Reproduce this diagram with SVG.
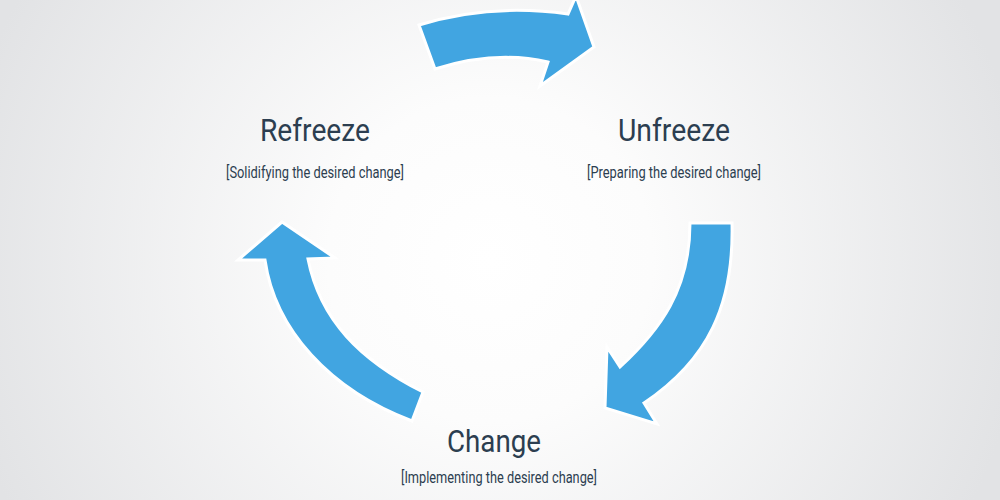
<svg xmlns="http://www.w3.org/2000/svg" width="1000" height="500" viewBox="0 0 1000 500">
<style>
.arrow{fill:#41a5e1;stroke:#ffffff;stroke-width:3;stroke-linejoin:miter}
.title{font-family:Roboto,"Liberation Sans",sans-serif;font-size:31px;fill:#2c3e50;text-anchor:middle}
.sub{font-family:Roboto,"Liberation Sans",sans-serif;font-size:16px;fill:#2c3e50;text-anchor:middle}
</style>
<defs>
<radialGradient id="bg" gradientUnits="userSpaceOnUse" cx="490" cy="260" r="540">
<stop offset="0" stop-color="#ffffff"/>
<stop offset="0.3" stop-color="#fcfcfc"/>
<stop offset="1" stop-color="#e2e3e5"/>
</radialGradient>
</defs>
<rect width="1000" height="500" fill="url(#bg)"/>
<g id="connectors">
<path id="arrow-top" class="arrow" d="M419,25 Q490,3 568,14 L576,-4 L594,47 L540,86 L548,62 Q495,50 435,69 Z"/>
<path id="arrow-right" class="arrow" d="M690,223 L732,223 C734,305 708,360 644,403 L657,424 L605,408 L607,347 L620,367 C660,330 690,290 690,223 Z"/>
<path id="arrow-left" class="arrow" d="M412,421 L423,392 C360,360 320,320 308,259 L335,258 L282,222 L238,260 L265,260 C275,330 330,390 412,421 Z"/>
</g>
<g id="refreeze">
<text class="title" x="315" y="141" textLength="110" lengthAdjust="spacingAndGlyphs">Refreeze</text>
<text class="sub" x="315" y="178" textLength="178" lengthAdjust="spacingAndGlyphs">[Solidifying the desired change]</text>
</g>
<g id="unfreeze">
<text class="title" x="674" y="141" textLength="112" lengthAdjust="spacingAndGlyphs">Unfreeze</text>
<text class="sub" x="674" y="178" textLength="174" lengthAdjust="spacingAndGlyphs">[Preparing the desired change]</text>
</g>
<g id="change">
<text class="title" x="494" y="452" textLength="94" lengthAdjust="spacingAndGlyphs">Change</text>
<text class="sub" x="499" y="483" textLength="196" lengthAdjust="spacingAndGlyphs">[Implementing the desired change]</text>
</g>
</svg>
